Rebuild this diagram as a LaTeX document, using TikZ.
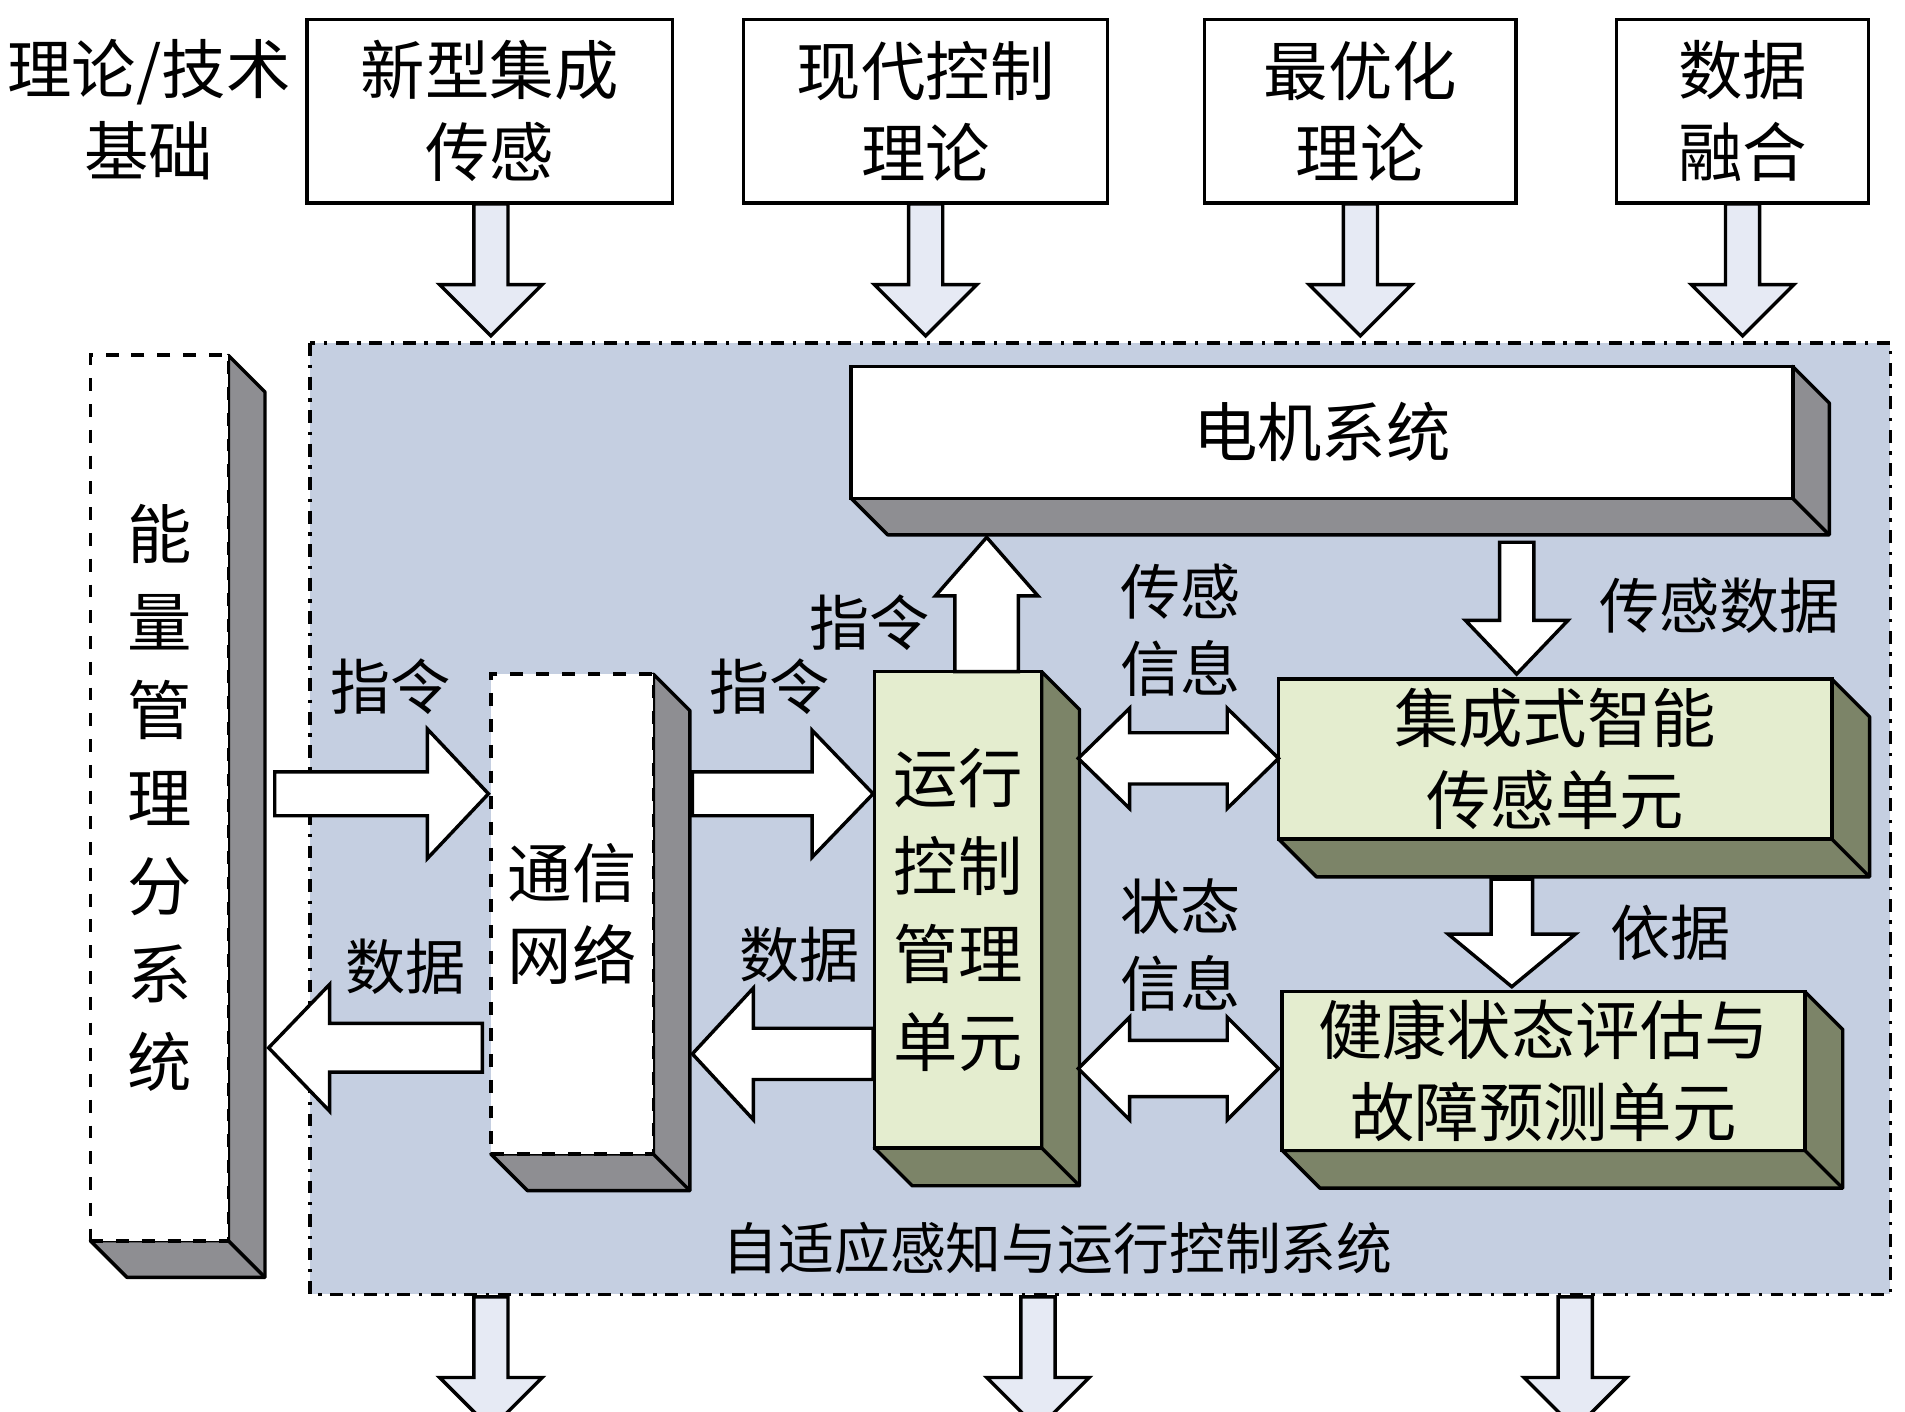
\documentclass[tikz,border=0pt]{standalone}
\usepackage{fontspec}
\setmainfont{Noto Sans CJK SC}
\definecolor{bgblue}{HTML}{C5CFE1}
\definecolor{arrfill}{HTML}{E6EAF4}
\definecolor{lgreen}{HTML}{E4EDCF}
\definecolor{dgreen}{HTML}{7C8468}
\definecolor{dgrey}{HTML}{8E8E92}
\tikzset{
  big/.style={font=\fontsize{15}{19}\selectfont},
  mid/.style={font=\fontsize{14}{18}\selectfont},
  topbox/.style={draw,thick,fill=white,big,align=center},
  front/.style={draw,thick,align=center,big,inner sep=0pt},
  side/.style={draw,thick,line join=round},
  blockarr/.style={draw,thick,fill=white,line join=miter},
  lab/.style={mid,align=center,inner sep=0pt}
}
% side faces of a box: x1 y1 x2 y2 depth
\newcommand\sidefaces[6]{%
  \filldraw[side,fill=#6] (#3,#2) -- ++(#5,#5) -- (#3+#5,#4+#5) -- (#1+#5,#4+#5) -- (#1,#4) -- (#3,#4) -- cycle;
  \draw[side] (#3,#4) -- ++(#5,#5);}
% horizontal block arrow: xstart xtip ycenter shafthalf headhalf headlen
\newcommand\harr[7]{%
  \filldraw[blockarr,fill=#7] (#1,#3-#4) -- (#2-#6,#3-#4) -- (#2-#6,#3-#5) -- (#2,#3)
    -- (#2-#6,#3+#5) -- (#2-#6,#3+#4) -- (#1,#3+#4) -- cycle;}
% vertical block arrow: ystart ytip xcenter shafthalf headhalf headlen
\newcommand\varr[7]{%
  \filldraw[blockarr,fill=#7] (#3-#4,#1) -- (#3-#4,#2-#6) -- (#3-#5,#2-#6) -- (#3,#2)
    -- (#3+#5,#2-#6) -- (#3+#4,#2-#6) -- (#3+#4,#1) -- cycle;}
% double arrow: xleft xright ycenter shafthalf headhalf headlen
\newcommand\dharr[6]{%
  \filldraw[blockarr] (#1,#3) -- (#1+#6,#3-#5) -- (#1+#6,#3-#4) -- (#2-#6,#3-#4) -- (#2-#6,#3-#5)
    -- (#2,#3) -- (#2-#6,#3+#5) -- (#2-#6,#3+#4) -- (#1+#6,#3+#4) -- (#1+#6,#3+#5) -- cycle;}
\begin{document}
\begin{tikzpicture}[x=0.01cm,y=-0.01cm]
\useasboundingbox (0,0) rectangle (1560,1156);
% background system
\filldraw[thick,dash dot,fill=bgblue] (254,281) rectangle (1548,1060);
\node[lab,font=\fontsize{13}{16}\selectfont] (systitle) at (866,1022) {自适应感知与运行控制系统};

% theory row
\node[big,align=center] (basis) at (122,90) {理论/技术\\基础};
\node[topbox,minimum width=2.99cm,minimum height=1.5cm] (sens) at (401,91) {新型集成\\传感};
\node[topbox,minimum width=2.98cm,minimum height=1.5cm] (ctrl) at (758,91) {现代控制\\理论};
\node[topbox,minimum width=2.55cm,minimum height=1.5cm] (opt) at (1114,91) {最优化\\理论};
\node[topbox,minimum width=2.06cm,minimum height=1.5cm] (fuse) at (1427,91) {数据\\融合};
\varr{167}{275}{402}{14}{42}{42}{arrfill}
\varr{167}{275}{758}{14}{42}{42}{arrfill}
\varr{167}{275}{1114}{14}{42}{42}{arrfill}
\varr{167}{275}{1427}{14}{42}{42}{arrfill}

% bottom arrows
\varr{1062}{1170}{402}{14}{42}{42}{arrfill}
\varr{1062}{1170}{850}{14}{42}{42}{arrfill}
\varr{1062}{1170}{1290}{14}{42}{42}{arrfill}

% energy management
\sidefaces{74}{291}{187}{1016}{30}{dgrey}
\node[front,dashed,fill=white,minimum width=1.13cm,minimum height=7.25cm,
  font=\fontsize{15}{20.5}\selectfont] (energy) at (130.5,653.5) {能\\量\\管\\理\\分\\系\\统};

% motor system
\sidefaces{697}{300}{1468}{408}{30}{dgrey}
\node[front,fill=white,minimum width=7.71cm,minimum height=1.08cm] (motor) at (1082.5,354) {电机系统};

% communication network
\sidefaces{402}{552}{535}{945}{30}{dgrey}
\node[front,dashed,fill=white,minimum width=1.33cm,minimum height=3.93cm] (net) at (468.5,748.5) {通信\\网络};

% control unit
\sidefaces{716}{550}{853}{940}{31}{dgreen}
\node[front,fill=lgreen,minimum width=1.37cm,minimum height=3.9cm,
  font=\fontsize{15}{20.5}\selectfont] (unit) at (784.5,745) {运行\\控制\\管理\\单元};

% sensor unit
\sidefaces{1047}{556}{1500}{687}{31}{dgreen}
\node[front,fill=lgreen,minimum width=4.53cm,minimum height=1.31cm] (sunit) at (1273.5,621.5) {集成式智能\\传感单元};

% health unit
\sidefaces{1050}{812}{1478}{942}{31}{dgreen}
\node[front,fill=lgreen,minimum width=4.28cm,minimum height=1.3cm] (hunit) at (1264,877) {健康状态评估与\\故障预测单元};

% block arrows
\harr{225}{400}{650}{18}{53}{50}{white}
\harr{567}{715}{650}{18}{52}{50}{white}
\harr{395}{220}{858}{20}{52}{-50}{white}
\harr{715}{567}{863}{21}{54}{-50}{white}
\varr{550}{440}{808}{26}{42}{-48}{white}
\varr{444}{552}{1242}{14}{42}{44}{white}
\varr{720}{808}{1238}{17}{52}{43}{white}
\dharr{883}{1047}{621}{21}{41}{42}
\dharr{883}{1047}{875}{23}{42}{42}

% labels
\node[lab] (l1) at (320,562) {指令};
\node[lab] (l2) at (630,562) {指令};
\node[lab] (l3) at (712,510) {指令};
\node[lab] (l4) at (332,792) {数据};
\node[lab] (l5) at (655,782) {数据};
\node[lab] (l6) at (967,516) {传感\\信息};
\node[lab] (l7) at (967,774) {状态\\信息};
\node[lab] (l8) at (1408,496) {传感数据};
\node[lab] (l9) at (1368,764) {依据};
\end{tikzpicture}
\end{document}
